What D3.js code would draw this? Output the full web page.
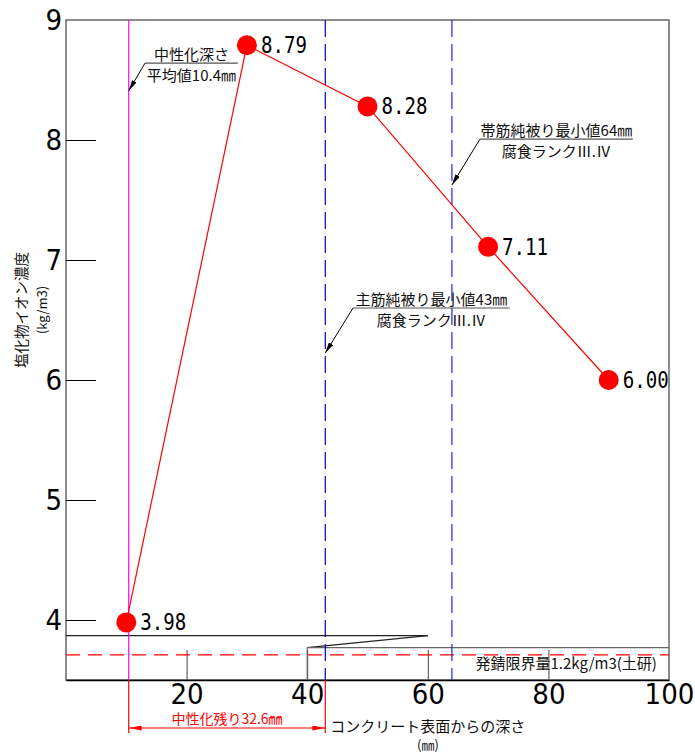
<!DOCTYPE html>
<html><head><meta charset="utf-8">
<script src="https://cdn.jsdelivr.net/npm/d3@7"></script>
<style>
html,body{margin:0;padding:0;background:#fff;}
svg{display:block;}
</style></head>
<body>
<svg id="chart" width="695" height="756"></svg>
<script>
// ---- data ----
const depths = [10, 30, 50, 70, 90];                 // mm from surface
const chloride = [3.98, 8.79, 8.28, 7.11, 6.00];     // kg/m3
const valueLabels = ["3.98", "8.79", "8.28", "7.11", "6.00"];
const xTicks = [20, 40, 60, 80, 100];
const yTicks = [4, 5, 6, 7, 8, 9];
const neutralDepth = 10.4;          // 中性化深さ平均値
const coverMain = 43;               // 主筋純被り最小値
const coverHoop = 64;               // 帯筋純被り最小値
const remaining = 32.6;             // 中性化残り
const thresholdText = "発錆限界量1.2kg/m3(土研)";
// axis-break / threshold positions (in broken-axis units)
const breakUpper = 3.87, breakLower = 3.77, thresholdPos = 3.71;
const breakUpperEnd = 60, breakLowerStart = 40;
const callouts = [
  {tip:[neutralDepth, 8.41], elbow:[13.1, 8.64], end:28.5, lines:["中性化深さ", "平均値10.4㎜"]},
  {tip:[coverHoop, 7.625], elbow:[68.66, 8.008], end:94.0, lines:["帯筋純被り最小値64㎜", "腐食ランクⅢ.Ⅳ"]},
  {tip:[coverMain, 6.225], elbow:[47.6, 6.6], end:73.6, lines:["主筋純被り最小値43㎜", "腐食ランクⅢ.Ⅳ"]}
];

// ---- layout ----
const L = 66, R = 669, T = 20, B = 680;
const x = d3.scaleLinear().domain([0, 100]).range([L, R]);
const y = d3.scaleLinear().domain([3.5, 9]).range([B, T]);
const svg = d3.select("#chart");
const jp = "'Noto Sans CJK JP', 'Noto Sans', sans-serif";
const narrow = "'Liberation Sans Narrow', 'DejaVu Sans Condensed', 'Liberation Sans', sans-serif";

const defs = svg.append("defs");
function marker(id, color, w, h) {
  defs.append("marker").attr("id", id).attr("viewBox", `0 0 ${w} ${h}`)
    .attr("refX", w).attr("refY", h/2).attr("markerWidth", w).attr("markerHeight", h)
    .attr("markerUnits", "userSpaceOnUse").attr("orient", "auto-start-reverse")
    .append("path").attr("d", `M0,0L${w},${h/2}L0,${h}Z`).attr("fill", color);
}
marker("arrK", "#000", 11, 5);
marker("arrR", "#f00", 13, 5);

// frame
svg.append("rect").attr("x", L).attr("y", T).attr("width", R - L).attr("height", B - T)
  .attr("fill", "none").attr("stroke", "#666").attr("stroke-width", 1.5);

// y axis
const yAxis = svg.append("g").attr("transform", `translate(${L},0)`)
  .call(d3.axisLeft(y).tickValues(yTicks).tickSizeInner(-30).tickSizeOuter(0).tickPadding(4).tickFormat(d3.format("d")));
yAxis.select(".domain").remove();
yAxis.selectAll(".tick line").attr("stroke", "#000");
yAxis.selectAll(".tick").filter(d => d === 9).select("line").remove();
yAxis.selectAll("text").attr("font-family", narrow).attr("font-size", 29).attr("fill", "#000");

// x axis
const xAxis = svg.append("g").attr("transform", `translate(0,${B})`)
  .call(d3.axisBottom(x).tickValues(xTicks).tickSizeInner(-30).tickSizeOuter(0).tickPadding(3).tickFormat(d3.format("d")));
xAxis.select(".domain").attr("stroke", "#000").attr("stroke-width", 1.5);
xAxis.selectAll(".tick line").attr("stroke", "#444");
xAxis.selectAll(".tick").filter(d => d === 100).select("line").remove();
xAxis.selectAll("text").attr("font-family", narrow).attr("font-size", 29).attr("fill", "#000");

// axis break
svg.append("line").attr("x1", L).attr("x2", x(breakUpperEnd)).attr("y1", y(breakUpper)).attr("y2", y(breakUpper))
  .attr("stroke", "#222").attr("stroke-width", 1.2);
svg.append("line").attr("x1", x(breakUpperEnd)).attr("x2", x(breakLowerStart)).attr("y1", y(breakUpper)).attr("y2", y(breakLower))
  .attr("stroke", "#222").attr("stroke-width", 1.2);
svg.append("line").attr("x1", x(breakLowerStart)).attr("x2", R).attr("y1", y(breakLower)).attr("y2", y(breakLower))
  .attr("stroke", "#666").attr("stroke-width", 1.2);
svg.append("line").attr("x1", x(breakLowerStart)).attr("x2", x(breakLowerStart)).attr("y1", y(breakLower)).attr("y2", B)
  .attr("stroke", "#666").attr("stroke-width", 1.2);

// threshold line
svg.append("line").attr("x1", L).attr("x2", R).attr("y1", y(thresholdPos)).attr("y2", y(thresholdPos))
  .attr("stroke", "#f00").attr("stroke-width", 1.2).attr("stroke-dasharray", "14,8");
svg.append("text").attr("x", x(98)).attr("y", y(thresholdPos) + 14).attr("text-anchor", "end")
  .attr("font-family", jp).attr("font-size", 15).attr("fill", "#111").text(thresholdText);

// vertical reference lines
svg.append("line").attr("x1", x(neutralDepth)).attr("x2", x(neutralDepth)).attr("y1", T).attr("y2", B)
  .attr("stroke", "#ff00ff").attr("stroke-width", 1.2);
[coverMain, coverHoop].forEach((c, i) => {
  svg.append("line").attr("x1", x(c)).attr("x2", x(c)).attr("y1", T).attr("y2", B)
    .attr("stroke", i === 0 ? "#0000b0" : "#2222ee").attr("stroke-width", 1.2).attr("stroke-dasharray", "17,7");
});

// series
const pts = depths.map((d, i) => [d, chloride[i]]);
svg.append("path").datum(pts)
  .attr("d", d3.line().x(d => x(d[0])).y(d => y(d[1])))
  .attr("fill", "none").attr("stroke", "#f00").attr("stroke-width", 1.2);
svg.selectAll("circle.pt").data(pts).join("circle").attr("class", "pt")
  .attr("cx", d => x(d[0])).attr("cy", d => y(d[1])).attr("r", 10).attr("fill", "#f00");
svg.selectAll("text.vl").data(pts).join("text").attr("class", "vl")
  .attr("x", d => x(d[0]) + 14).attr("y", d => y(d[1]) + 8)
  .attr("font-family", "'DejaVu Sans Mono', 'Liberation Mono', monospace").attr("font-size", 23)
  .attr("textLength", 46).attr("lengthAdjust", "spacingAndGlyphs").attr("fill", "#000")
  .text((d, i) => valueLabels[i]);

// callouts
callouts.forEach(c => {
  const ex = x(c.elbow[0]), ey = y(c.elbow[1]), endx = x(c.end);
  svg.append("line").attr("x1", ex).attr("x2", endx).attr("y1", ey).attr("y2", ey)
    .attr("stroke", "#555").attr("stroke-width", 1.2);
  svg.append("line").attr("x1", ex).attr("y1", ey).attr("x2", x(c.tip[0])).attr("y2", y(c.tip[1]))
    .attr("stroke", "#000").attr("stroke-width", 1).attr("marker-end", "url(#arrK)");
  const cx = (ex + endx) / 2;
  svg.append("text").attr("x", cx).attr("y", ey - 3).attr("text-anchor", "middle")
    .attr("font-family", jp).attr("font-size", 15).attr("fill", "#111").text(c.lines[0]);
  svg.append("text").attr("x", cx).attr("y", ey + 18).attr("text-anchor", "middle")
    .attr("font-family", jp).attr("font-size", 15).attr("fill", "#111").text(c.lines[1]);
});

// dimension for 中性化残り
const dimY = B + 48;
[neutralDepth, neutralDepth + remaining].forEach(v => {
  svg.append("line").attr("x1", x(v)).attr("x2", x(v)).attr("y1", B).attr("y2", B + 53)
    .attr("stroke", "#f00").attr("stroke-width", 1.2);
});
svg.append("line").attr("x1", x(neutralDepth)).attr("x2", x(neutralDepth + remaining)).attr("y1", dimY).attr("y2", dimY)
  .attr("stroke", "#f00").attr("stroke-width", 1.2)
  .attr("marker-start", "url(#arrR)").attr("marker-end", "url(#arrR)");
svg.append("text").attr("x", x(neutralDepth + remaining / 2)).attr("y", dimY - 4).attr("text-anchor", "middle")
  .attr("font-family", jp).attr("font-size", 14).attr("fill", "#f00").text(`中性化残り${remaining}㎜`);

// x axis title
svg.append("text").attr("x", x(neutralDepth + remaining) + 5).attr("y", dimY + 4)
  .attr("font-family", jp).attr("font-size", 15).attr("fill", "#111").text("コンクリート表面からの深さ");
svg.append("text").attr("x", 428).attr("y", dimY + 22).attr("text-anchor", "middle")
  .attr("font-family", jp).attr("font-size", 13).attr("fill", "#111").text("(㎜)");

// y axis title
svg.append("text").attr("transform", "translate(27,310) rotate(-90)").attr("text-anchor", "middle")
  .attr("font-family", jp).attr("font-size", 14.5).attr("fill", "#111").text("塩化物イオン濃度");
svg.append("text").attr("transform", "translate(47,310) rotate(-90)").attr("text-anchor", "middle")
  .attr("font-family", jp).attr("font-size", 13).attr("fill", "#111").text("(kg/m3)");
</script>
</body></html>
